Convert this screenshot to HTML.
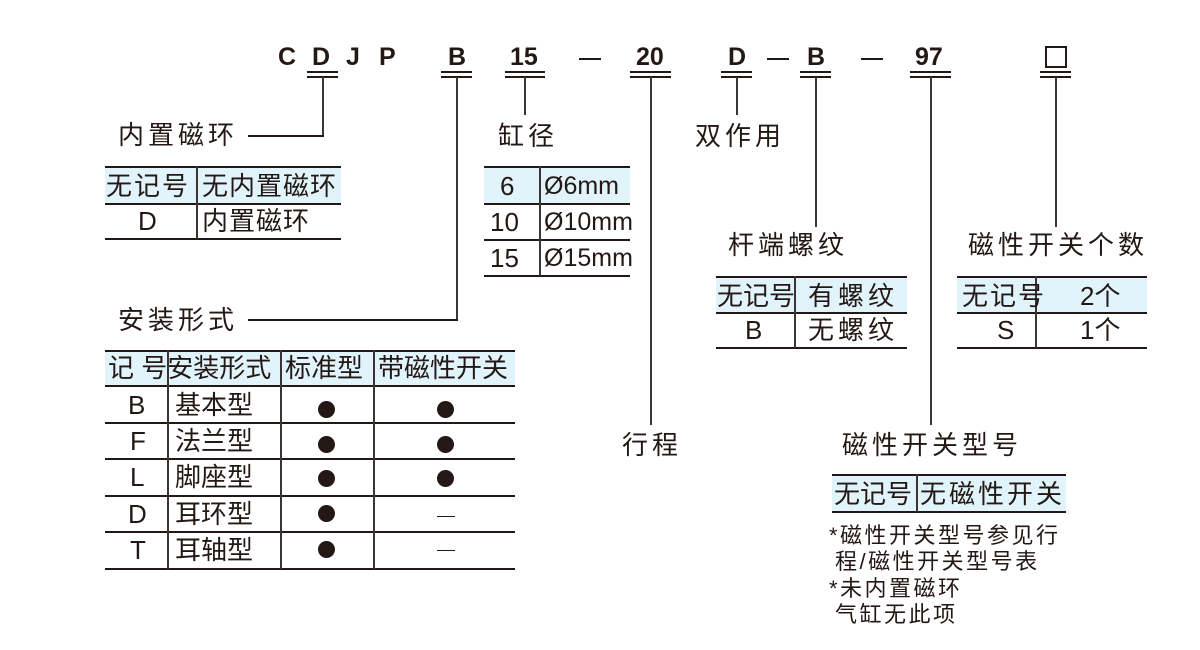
<!DOCTYPE html>
<html><head><meta charset="utf-8"><style>
body{margin:0;width:1200px;height:650px;background:#fff;position:relative;overflow:hidden;font-family:"Liberation Sans","Noto Sans CJK SC",sans-serif;color:#231815}
.t{position:absolute;white-space:nowrap;font-size:26px;line-height:1;letter-spacing:4px}
.c{position:absolute;white-space:nowrap;font-size:25px;line-height:1;font-weight:bold;text-align:center}
.h{position:absolute;height:2px;background:#231815}
.v{position:absolute;width:2px;background:#3a3433}
.bg{position:absolute;background:#e1f3fb}
.dot{position:absolute;width:17px;height:17px;border-radius:50%;background:#231815}
.n{position:absolute;white-space:nowrap;font-size:22px;line-height:1;letter-spacing:2.5px}
</style></head><body>
<div class="c" style="left:278px;top:45px">C</div>
<div class="c" style="left:312px;top:45px">D</div>
<div class="c" style="left:346px;top:45px">J</div>
<div class="c" style="left:379px;top:45px">P</div>
<div class="c" style="left:448px;top:45px">B</div>
<div class="c" style="left:510px;top:45px">15</div>
<div class="h" style="left:579px;top:58px;width:22px"></div>
<div class="c" style="left:636px;top:45px">20</div>
<div class="c" style="left:728px;top:45px">D</div>
<div class="h" style="left:767px;top:58px;width:22px"></div>
<div class="c" style="left:807px;top:45px">B</div>
<div class="h" style="left:861px;top:58px;width:22px"></div>
<div class="c" style="left:915px;top:45px">97</div>
<div style="position:absolute;left:1045px;top:46px;width:22px;height:22px;border:2px solid #231815;box-sizing:border-box"></div>
<div class="h" style="left:307px;top:71px;width:31px"></div><div class="h" style="left:307px;top:76px;width:31px"></div>
<div class="h" style="left:441px;top:71px;width:31px"></div><div class="h" style="left:441px;top:76px;width:31px"></div>
<div class="h" style="left:505px;top:71px;width:40px"></div><div class="h" style="left:505px;top:76px;width:40px"></div>
<div class="h" style="left:630px;top:71px;width:41px"></div><div class="h" style="left:630px;top:76px;width:41px"></div>
<div class="h" style="left:721px;top:71px;width:31px"></div><div class="h" style="left:721px;top:76px;width:31px"></div>
<div class="h" style="left:800px;top:71px;width:31px"></div><div class="h" style="left:800px;top:76px;width:31px"></div>
<div class="h" style="left:910px;top:71px;width:41px"></div><div class="h" style="left:910px;top:76px;width:41px"></div>
<div class="h" style="left:1040px;top:71px;width:31px"></div><div class="h" style="left:1040px;top:76px;width:31px"></div>
<div class="v" style="left:322px;top:77px;height:60px"></div><div class="h" style="left:248px;top:135px;width:76px"></div>
<div class="t" style="left:118px;top:122px">内置磁环</div>
<div class="v" style="left:456px;top:77px;height:244px"></div><div class="h" style="left:248px;top:319px;width:210px"></div>
<div class="t" style="left:118px;top:307px">安装形式</div>
<div class="v" style="left:524px;top:77px;height:38px"></div>
<div class="t" style="left:498px;top:123px">缸径</div>
<div class="v" style="left:650px;top:77px;height:348px"></div>
<div class="t" style="left:622px;top:432px">行程</div>
<div class="v" style="left:736px;top:77px;height:38px"></div>
<div class="t" style="left:695px;top:123px">双作用</div>
<div class="v" style="left:815px;top:77px;height:150px"></div>
<div class="t" style="left:728px;top:232px">杆端螺纹</div>
<div class="v" style="left:930px;top:77px;height:348px"></div>
<div class="t" style="left:842px;top:432px">磁性开关型号</div>
<div class="v" style="left:1055px;top:77px;height:150px"></div>
<div class="t" style="left:968px;top:232px">磁性开关个数</div>
<!-- T1 -->
<div class="bg" style="left:105px;top:167px;width:236px;height:37px"></div>
<div class="h" style="left:105px;top:166px;width:236px"></div><div class="h" style="left:105px;top:203px;width:236px"></div><div class="h" style="left:105px;top:238px;width:236px"></div>
<div class="v" style="left:196px;top:166px;height:73px"></div>
<div class="t" style="left:106px;top:173px;letter-spacing:2px">无记号</div><div class="t" style="left:202px;top:173px;letter-spacing:1px">无内置磁环</div>
<div class="t" style="left:138px;top:208px">D</div><div class="t" style="left:202px;top:208px;letter-spacing:1px">内置磁环</div>
<!-- T2 -->
<div class="bg" style="left:484px;top:167px;width:146px;height:37px"></div>
<div class="h" style="left:484px;top:166px;width:146px"></div><div class="h" style="left:484px;top:203px;width:146px"></div><div class="h" style="left:484px;top:239px;width:146px"></div><div class="h" style="left:484px;top:275px;width:146px"></div>
<div class="v" style="left:539px;top:166px;height:110px"></div>
<div class="t" style="left:500px;top:173px;letter-spacing:0">6</div><div class="t" style="left:544px;top:174px;letter-spacing:0;font-size:25px">Ø6mm</div>
<div class="t" style="left:490px;top:209px;letter-spacing:0">10</div><div class="t" style="left:544px;top:210px;letter-spacing:0;font-size:25px">Ø10mm</div>
<div class="t" style="left:490px;top:245px;letter-spacing:0">15</div><div class="t" style="left:544px;top:246px;letter-spacing:0;font-size:25px">Ø15mm</div>
<!-- T3 -->
<div class="bg" style="left:716px;top:277px;width:191px;height:36px"></div>
<div class="h" style="left:716px;top:276px;width:191px"></div><div class="h" style="left:716px;top:312px;width:191px"></div><div class="h" style="left:716px;top:347px;width:191px"></div>
<div class="v" style="left:794px;top:276px;height:72px"></div>
<div class="t" style="left:717px;top:283px;letter-spacing:0">无记号</div><div class="t" style="left:808px;top:283px">有螺纹</div>
<div class="t" style="left:745px;top:317px">B</div><div class="t" style="left:808px;top:317px">无螺纹</div>
<!-- T4 -->
<div class="bg" style="left:957px;top:277px;width:190px;height:36px"></div>
<div class="h" style="left:957px;top:276px;width:190px"></div><div class="h" style="left:957px;top:312px;width:190px"></div><div class="h" style="left:957px;top:347px;width:190px"></div>
<div class="v" style="left:1035px;top:276px;height:72px"></div>
<div class="t" style="left:962px;top:283px;letter-spacing:2px">无记号</div><div class="t" style="left:1080px;top:283px;letter-spacing:0">2个</div>
<div class="t" style="left:997px;top:317px">S</div><div class="t" style="left:1080px;top:317px;letter-spacing:0">1个</div>
<!-- T5 -->
<div class="bg" style="left:105px;top:351px;width:410px;height:35px"></div>
<div class="h" style="left:105px;top:350px;width:410px"></div>
<div class="h" style="left:105px;top:385px;width:410px"></div>
<div class="h" style="left:105px;top:422px;width:410px"></div>
<div class="h" style="left:105px;top:458px;width:410px"></div>
<div class="h" style="left:105px;top:495px;width:410px"></div>
<div class="h" style="left:105px;top:531px;width:410px"></div>
<div class="h" style="left:105px;top:568px;width:410px"></div>
<div class="v" style="left:167px;top:350px;height:219px"></div>
<div class="v" style="left:280px;top:350px;height:219px"></div>
<div class="v" style="left:373px;top:350px;height:219px"></div>
<div class="t" style="left:108px;top:355px;letter-spacing:0">记 号安装形式</div>
<div class="t" style="left:285px;top:355px;letter-spacing:0">标准型</div>
<div class="t" style="left:378px;top:355px;letter-spacing:0">带磁性开关</div>
<div class="t" style="left:128px;top:392px">B</div><div class="t" style="left:175px;top:392px;letter-spacing:0">基本型</div>
<div class="t" style="left:130px;top:428px">F</div><div class="t" style="left:175px;top:428px;letter-spacing:0">法兰型</div>
<div class="t" style="left:130px;top:464px">L</div><div class="t" style="left:175px;top:464px;letter-spacing:0">脚座型</div>
<div class="t" style="left:128px;top:501px">D</div><div class="t" style="left:175px;top:501px;letter-spacing:0">耳环型</div>
<div class="t" style="left:130px;top:537px">T</div><div class="t" style="left:175px;top:537px;letter-spacing:0">耳轴型</div>
<div class="dot" style="left:318px;top:401px"></div><div class="dot" style="left:437px;top:401px"></div>
<div class="dot" style="left:318px;top:436px"></div><div class="dot" style="left:437px;top:436px"></div>
<div class="dot" style="left:318px;top:470px"></div><div class="dot" style="left:437px;top:470px"></div>
<div class="dot" style="left:318px;top:505px"></div>
<div class="dot" style="left:318px;top:541px"></div>
<div class="h" style="left:437px;top:516px;width:18px;height:1px"></div>
<div class="h" style="left:437px;top:550px;width:18px;height:1px"></div>
<!-- T6 -->
<div class="bg" style="left:832px;top:475px;width:234px;height:37px"></div>
<div class="h" style="left:832px;top:474px;width:234px"></div><div class="h" style="left:832px;top:511px;width:234px"></div>
<div class="v" style="left:916px;top:474px;height:38px"></div>
<div class="t" style="left:834px;top:481px;letter-spacing:0">无记号</div><div class="t" style="left:920px;top:481px;letter-spacing:3px">无磁性开关</div>
<div class="n" style="left:829px;top:525px">*磁性开关型号参见行</div>
<div class="n" style="left:835px;top:551px">程/磁性开关型号表</div>
<div class="n" style="left:829px;top:578px">*未内置磁环</div>
<div class="n" style="left:835px;top:604px">气缸无此项</div>
</body></html>
